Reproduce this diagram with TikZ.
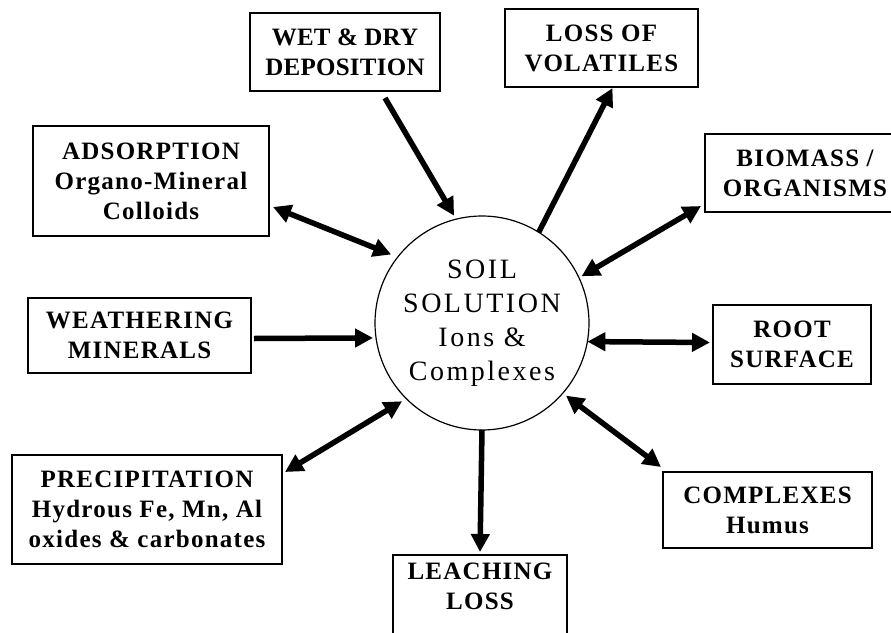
\documentclass[tikz,border=0pt]{standalone}
\usepackage{fontspec}
\setmainfont{Liberation Serif}
\newfontfamily\boxfont[LetterSpace=5]{Liberation Serif}
\newfontfamily\boxfonttight[LetterSpace=1]{Liberation Serif}
\newfontfamily\soilfont[LetterSpace=9]{Liberation Serif}
\usetikzlibrary{arrows.meta}
\begin{document}
\begin{tikzpicture}[x=1pt,y=-1pt,
  box/.style={draw, line width=1.4pt, inner sep=0pt, outer sep=0pt, align=center,
    font=\boxfont\bfseries\fontsize{25}{30}\selectfont},
  arr/.style={line width=5.5pt, -{Triangle[length=18pt,width=18pt]}},
  darr/.style={line width=5.5pt, {Triangle[length=18pt,width=18pt]}-{Triangle[length=18pt,width=18pt]}},
]
\useasboundingbox (0,0) rectangle (891,632);
\fill[white] (0,0) rectangle (891,632);

\node[circle, draw, line width=1.2pt, minimum size=214pt, inner sep=0pt, outer sep=0pt,
  align=center, font=\soilfont\fontsize{28}{34}\selectfont] (soil) at (482,323)
  {SOIL\\SOLUTION\\Ions \&\\Complexes};

\node[box, minimum width=190pt, minimum height=78pt,
  font=\boxfonttight\bfseries\fontsize{25}{30}\selectfont] (wet) at (345,52)
  {WET \& DRY\\DEPOSITION};
\node[box, minimum width=193pt, minimum height=78pt] (vol) at (601.5,48)
  {LOSS OF\\VOLATILES};
\node[box, minimum width=236pt, minimum height=110pt] (ads) at (151,181)
  {ADSORPTION\\Organo-Mineral\\Colloids};
\node[box, minimum width=200pt, minimum height=78pt] (bio) at (805,173)
  {BIOMASS /\\ORGANISMS};
\node[box, minimum width=223pt, minimum height=75pt] (wea) at (139.5,335.5)
  {WEATHERING\\MINERALS};
\node[box, minimum width=158pt, minimum height=79pt] (root) at (792,344.5)
  {ROOT\\SURFACE};
\node[box, minimum width=270pt, minimum height=109pt] (pre) at (147,509.5)
  {PRECIPITATION\\Hydrous Fe, Mn, Al\\oxides \& carbonates};
\node[box, minimum width=209pt, minimum height=76pt] (com) at (767.5,510)
  {COMPLEXES\\Humus};
\node[box, minimum width=174pt, inner ysep=8pt, anchor=north] (leach) at (480,555)
  {LEACHING\\LOSS\rule[-45pt]{0pt}{0pt}};

\draw[arr, shorten >=4pt] ([xshift=40pt,yshift=-7pt]wet.south) -- (soil.104);
\draw[arr] (soil.58) -- ([xshift=11pt,yshift=-1pt]vol.south);
\draw[darr, shorten >=7pt] ([xshift=4pt,yshift=-26pt]ads.east) -- (soil.142);
\draw[darr, shorten <=3pt] (soil.25) -- ([xshift=-4pt,yshift=6pt]bio.south west);
\draw[arr, shorten >=3pt] ([xshift=3pt,yshift=-3pt]wea.east) -- (soil.188);
\draw[darr] (soil.-10) -- ([xshift=-3pt,yshift=2pt]root.west);
\draw[darr, shorten >=5pt] ([xshift=3pt,yshift=-17pt]pre.north east) -- (soil.225);
\draw[darr, shorten <=4pt] (soil.-41) -- ([xshift=-2pt,yshift=5pt]com.north west);
\draw[arr] (soil.south) -- ([yshift=3pt]leach.north);
\end{tikzpicture}
\end{document}
